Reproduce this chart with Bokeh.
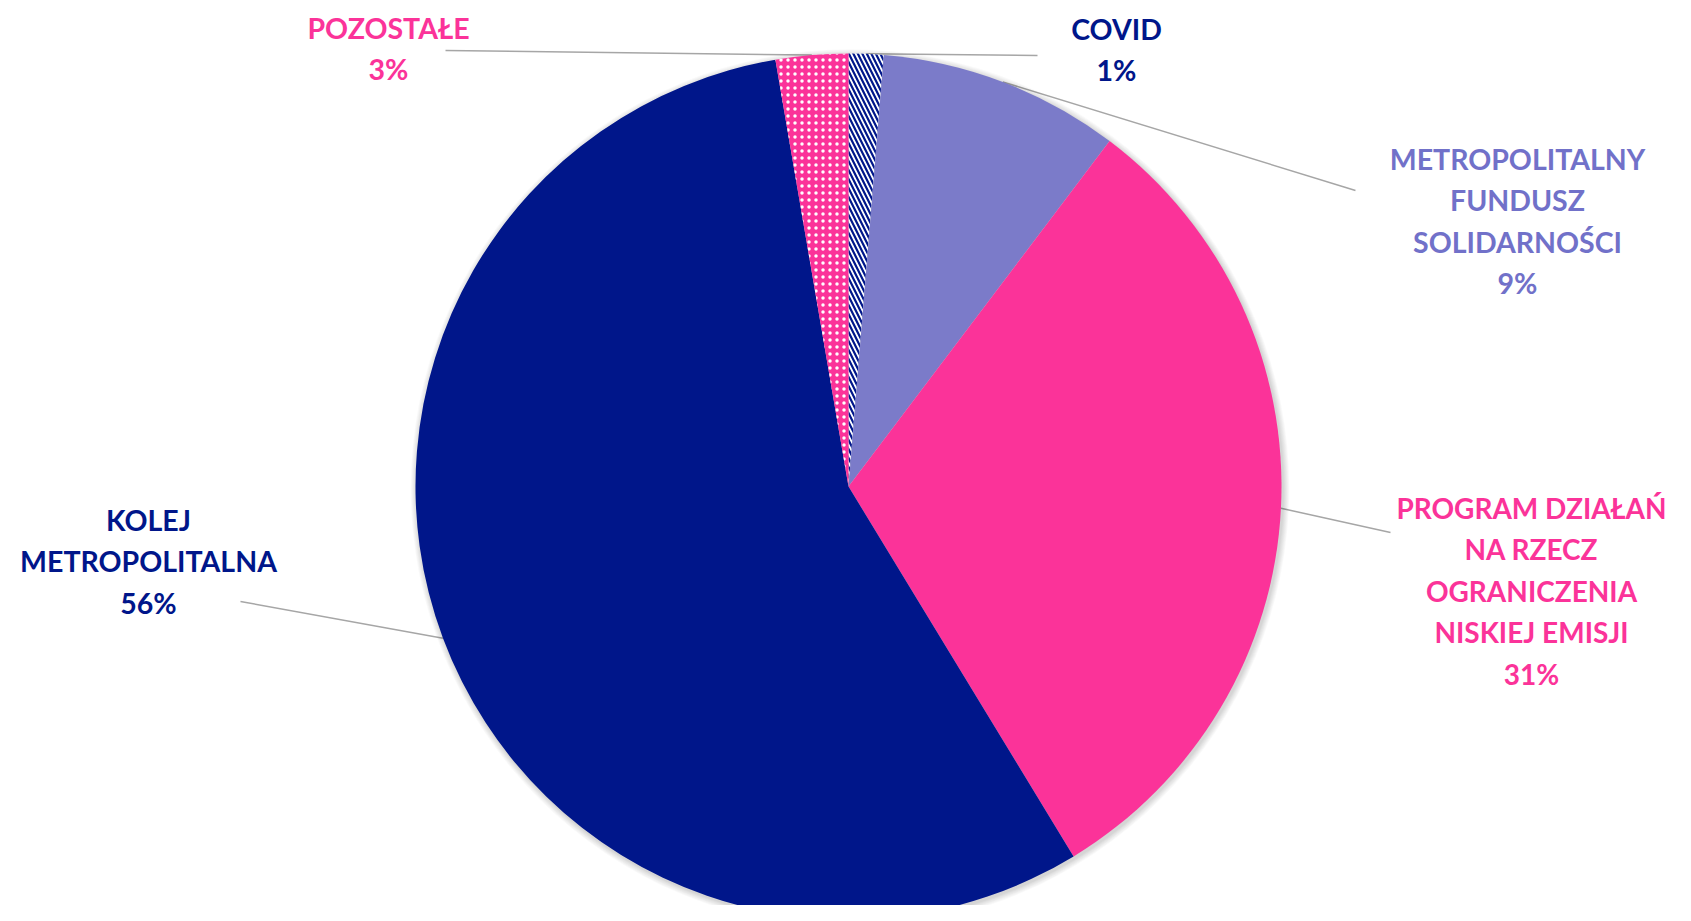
import numpy as np
from bokeh.plotting import figure
from bokeh.models import Range1d, ColumnDataSource
from bokeh.embed import file_html
from bokeh.resources import INLINE
from bokeh.core.properties import value

# ---------------- data ----------------
categories = [
    "COVID",
    "METROPOLITALNY\nFUNDUSZ\nSOLIDARNOŚCI",
    "PROGRAM DZIAŁAŃ\nNA RZECZ\nOGRANICZENIA\nNISKIEJ EMISJI",
    "KOLEJ\nMETROPOLITALNA",
    "POZOSTAŁE",
]
shares = [1.3, 9.0, 31.0, 56.0, 2.7]          # % (slices, clockwise from 12 o'clock)
pct_labels = ["1%", "9%", "31%", "56%", "3%"]

# ---------------- styles ----------------
NAVY = "#00168A"
PINK = "#FB3399"
PURPLE = "#7B7BC9"
slice_colors = ["#FFFFFF", PURPLE, PINK, NAVY, PINK]
hatch_patterns = ["left_diagonal_line", " ", " ", " ", "dot"]
hatch_colors = [NAVY, PURPLE, PINK, NAVY, "#FFFFFF"]
hatch_scales = [9, 6, 6, 6, 7]
hatch_weights = [2.2, 1, 1, 1, 1.6]
label_colors = [NAVY, "#7171C9", PINK, NAVY, PINK]

# layout in page pixels (y downward)
CX, CY, R = 848, 486, 433
label_anchor = [(1116, 28), (1517, 158), (1531, 507), (148, 519), (388, 27)]
line_outer = [(1037, 55), (1355, 190), (1390, 532), (240, 601), (445, 50)]
LINE_SP = 41.5
label_sizes = ["28.5px", "28.5px", "28px", "28.5px", "28.5px"]

W, H, OFF = 1675, 905, 0

p = figure(width=W, height=H, output_backend="svg", toolbar_location=None,
           x_axis_type=None, y_axis_type=None, min_border=0,
           x_range=Range1d(OFF, OFF + W), y_range=Range1d(-(OFF + H), -OFF))
p.outline_line_color = None
p.grid.visible = False
p.background_fill_color = "white"
p.border_fill_color = "white"

vals = np.array(shares, dtype=float)
frac = vals / vals.sum()
cum_end = np.cumsum(frac) * 2 * np.pi
cum_start = cum_end - frac * 2 * np.pi
# clockwise from top -> math angles (anticlockwise from +x)
start_angle = np.pi / 2 - cum_end
end_angle = np.pi / 2 - cum_start
mid_theta = (cum_start + cum_end) / 2

# leader lines (drawn under the pie)
for i in range(len(categories)):
    ix = CX + R * np.sin(mid_theta[i])
    iy = CY - R * np.cos(mid_theta[i])
    ox, oy = line_outer[i]
    p.line([ix, ox], [-iy, -oy], line_color="#A6A6A6", line_width=1.5)

# soft shadow
for k in range(1, 8):
    p.circle(x=CX + 1.5, y=-(CY + 2), radius=R + k * 0.9,
             fill_color="black", fill_alpha=0.022, line_color=None)

src = ColumnDataSource(dict(
    start=start_angle, end=end_angle, fill=slice_colors,
    hp=hatch_patterns, hc=hatch_colors, hs=hatch_scales, hw=hatch_weights,
))
p.wedge(x=CX, y=-CY, radius=R, start_angle="start", end_angle="end",
        fill_color="fill", line_color=None, source=src,
        hatch_pattern="hp", hatch_color="hc", hatch_scale="hs", hatch_weight="hw")

# labels
tx, ty, tt, tc, ts = [], [], [], [], []
for i, cat in enumerate(categories):
    lines = cat.split("\n") + [pct_labels[i]]
    ax, ay = label_anchor[i]
    for j, ln in enumerate(lines):
        tx.append(ax)
        ty.append(-(ay + j * LINE_SP))
        tt.append(ln)
        tc.append(label_colors[i])
        ts.append(label_sizes[i])
tsrc = ColumnDataSource(dict(x=tx, y=ty, text=tt, color=tc, size=ts))
p.text(x="x", y="y", text="text", text_color="color", text_font=value("Lato"),
       text_font_style="bold", text_font_size="size",
       text_align="center", text_baseline="middle", source=tsrc)

open("out.html", "w").write(file_html(p, INLINE))
